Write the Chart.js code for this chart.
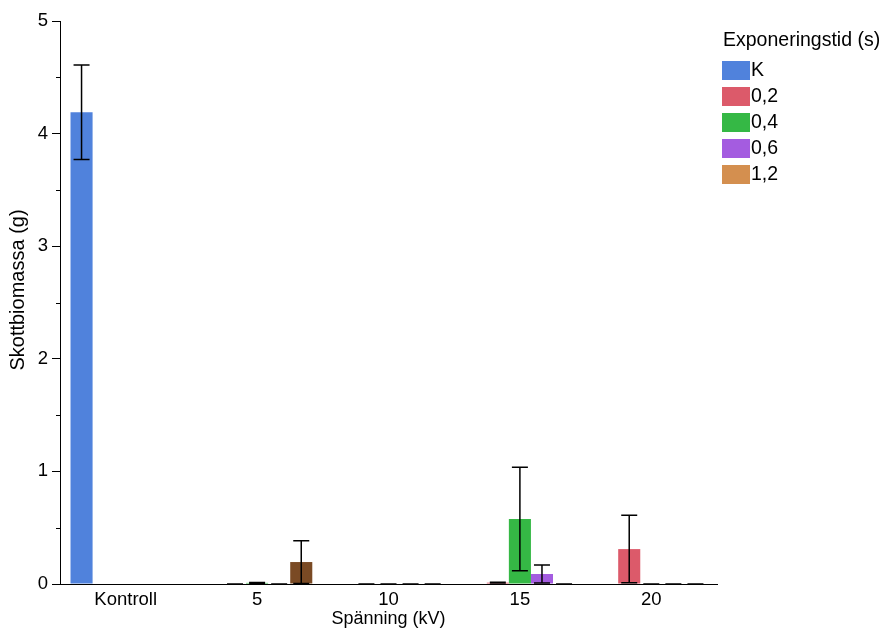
<!DOCTYPE html>
<html>
<head>
<meta charset="utf-8">
<title>Skottbiomassa</title>
<script src="https://cdn.jsdelivr.net/npm/chart.js@4.4.1/dist/chart.umd.min.js"></script>
<style>
  html, body { margin: 0; padding: 0; background: #fff; }
  #wrap { width: 883px; height: 628px; }
</style>
</head>
<body>
<div id="wrap"><canvas id="chart" width="883" height="628"></canvas></div>
<script>
// Voltage groups on the x axis
const categories = ['Kontroll', '5', '10', '15', '20'];

// Exposure times (legend)
const seriesLabels = ['K', '0,2', '0,4', '0,6', '1,2'];
const seriesColors = ['#5082DC', '#DC5A6A', '#35B845', '#A45CE0', '#D48F4F'];

// Mean shoot biomass (g) per exposure time; null = no treatment in that group
const valuesK   = [4.19, null, null, null, null];
const values02  = [null, 0,    0,    0.012, 0.31];
const values04  = [null, 0.01, 0,    0.577, 0];
const values06  = [null, 0,    0,    0.089, 0];
const values12  = [null, 0.195, 0,   0,     0];

// Standard deviations
const errorsK   = [0.42, null, null, null, null];
const errors02  = [null, 0,    0,    0.003, 0.30];
const errors04  = [null, 0.003, 0,   0.46,  0];
const errors06  = [null, 0,    0,    0.08,  0];
const errors12  = [null, 0.19, 0,    0,     0];

// Y axis ticks
const yMax = 5;
const yMajorStep = 1;
const yMinorStep = 0.5;

const yTitle = 'Skottbiomassa (g)';
const xTitle = 'Spänning (kV)';
const legendTitle = 'Exponeringstid (s)';

const allValues = [valuesK, values02, values04, values06, values12];
const allErrors = [errorsK, errors02, errors04, errors06, errors12];

const FONT = '"Liberation Sans", Arial, Helvetica, sans-serif';

// per-bar fill colours (the 1,2 s bar at 5 kV is drawn in a darker brown)
const barColors = seriesColors.map((c, i) => categories.map(() => c));
barColors[4][1] = '#7A4A24';

const datasets = seriesLabels.map((label, i) => ({
  label: label,
  data: allValues[i],
  backgroundColor: barColors[i],
  borderWidth: 0,
  categoryPercentage: 0.84,
  barPercentage: 1.0,
  errors: allErrors[i]
}));

// Error bars with caps
const errorBarPlugin = {
  id: 'errorBars',
  afterDatasetsDraw(chart) {
    const ctx = chart.ctx;
    const y = chart.scales.y;
    ctx.save();
    ctx.strokeStyle = '#000';
    ctx.lineWidth = 1.5;
    chart.data.datasets.forEach((ds, i) => {
      const meta = chart.getDatasetMeta(i);
      ds.data.forEach((v, j) => {
        const e = ds.errors[j];
        if (v === null || e === null || e === undefined) return;
        const x = meta.data[j].x;
        const yTop = y.getPixelForValue(v + e);
        const yBot = y.getPixelForValue(Math.max(0, v - e));
        const cap = 8;
        ctx.beginPath();
        ctx.moveTo(x, yTop); ctx.lineTo(x, yBot);
        ctx.moveTo(x - cap, yTop); ctx.lineTo(x + cap, yTop);
        ctx.moveTo(x - cap, yBot); ctx.lineTo(x + cap, yBot);
        ctx.stroke();
      });
    });
    ctx.restore();
  }
};

// Short unlabeled ticks between the integer y ticks, plus both axis titles
const axisExtrasPlugin = {
  id: 'axisExtras',
  afterDraw(chart) {
    const ctx = chart.ctx;
    const y = chart.scales.y;
    const area = chart.chartArea;
    ctx.save();
    ctx.strokeStyle = '#000';
    ctx.lineWidth = 1;
    for (let v = yMinorStep; v < yMax; v += yMajorStep) {
      const py = Math.round(y.getPixelForValue(v)) + 0.5;
      ctx.beginPath();
      ctx.moveTo(area.left - 4, py);
      ctx.lineTo(area.left, py);
      ctx.stroke();
    }
    ctx.fillStyle = '#000';
    ctx.textAlign = 'center';
    ctx.textBaseline = 'middle';
    ctx.font = '18px ' + FONT;
    ctx.fillText(xTitle, (area.left + area.right) / 2, 619);
    ctx.translate(18, 290);
    ctx.rotate(-Math.PI / 2);
    ctx.font = '20px ' + FONT;
    ctx.fillText(yTitle, 0, 0);
    ctx.restore();
  }
};

// Legend block on the right
const legendPlugin = {
  id: 'sideLegend',
  afterDraw(chart) {
    const ctx = chart.ctx;
    ctx.save();
    ctx.fillStyle = '#000';
    ctx.textBaseline = 'middle';
    ctx.textAlign = 'left';
    ctx.font = '19.5px ' + FONT;
    ctx.fillText(legendTitle, 723, 41);
    seriesLabels.forEach((label, i) => {
      const top = 61 + i * 26;
      ctx.fillStyle = seriesColors[i];
      ctx.fillRect(722, top, 28, 19);
      ctx.fillStyle = '#000';
      ctx.font = '19.5px ' + FONT;
      ctx.fillText(label, 751, top + 10);
    });
    ctx.restore();
  }
};

new Chart(document.getElementById('chart'), {
  type: 'bar',
  data: { labels: categories, datasets: datasets },
  options: {
    responsive: false,
    devicePixelRatio: 1,
    animation: false,
    layout: { padding: { left: 0, right: 166, top: 21, bottom: 0 } },
    plugins: {
      legend: { display: false },
      tooltip: { enabled: false }
    },
    scales: {
      x: {
        grid: { display: false, drawTicks: false },
        border: { display: true, color: '#000', width: 1 },
        ticks: { color: '#000', font: { family: FONT, size: 18.5 }, padding: 5 },
        title: { display: false },
        afterFit(scale) { scale.height = 44; }
      },
      y: {
        min: 0, max: yMax,
        grid: { display: true, drawOnChartArea: false, drawTicks: true, tickLength: 8, color: '#000' },
        border: { display: true, color: '#000', width: 1 },
        ticks: { stepSize: yMajorStep, color: '#000', font: { family: FONT, size: 18.5 }, padding: 4 },
        title: { display: false },
        afterFit(scale) { scale.width = 60; }
      }
    }
  },
  plugins: [errorBarPlugin, axisExtrasPlugin, legendPlugin]
});
</script>
</body>
</html>
